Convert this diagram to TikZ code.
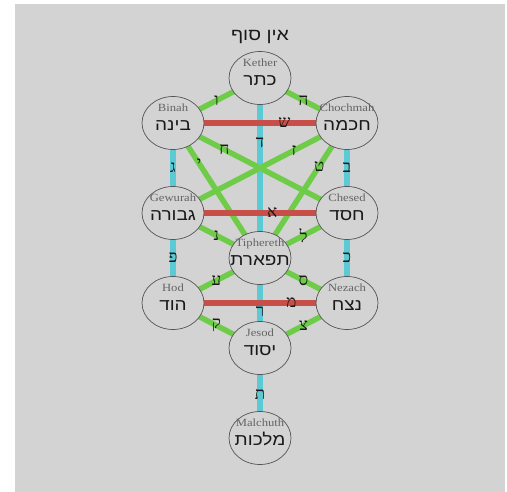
\documentclass[tikz,border=0pt]{standalone}
\usepackage{fontspec}
\setmainfont{Liberation Serif}
\newfontfamily\hebfont[Script=Hebrew]{Liberation Sans}
\usetikzlibrary{shapes.geometric,backgrounds}
\TeXXeTstate=1
\definecolor{bggray}{RGB}{211,211,211}
\definecolor{rimgray}{RGB}{85,85,85}
\definecolor{namegray}{RGB}{100,100,100}
\definecolor{hebgray}{RGB}{25,25,25}
\definecolor{pathgreen}{RGB}{110,204,72}
\definecolor{pathcyan}{RGB}{92,202,212}
\definecolor{pathred}{RGB}{200,78,74}
\newcommand{\HB}[1]{\scalebox{1.15}[1]{\hebfont\beginR #1\endR}}
\newcommand{\sefname}[2]{%
  \makebox[0pt]{\raisebox{11pt}[0pt][0pt]{\scalebox{1.15}[1]{\fontsize{11}{11}\selectfont\color{namegray}#1}}}%
  \makebox[0pt]{\raisebox{-8pt}[0pt][0pt]{\fontsize{16.5}{16.5}\selectfont\color{hebgray}\HB{#2}}}}

\begin{document}
\begin{tikzpicture}[x=1pt,y=-1pt]
  \tikzstyle{every node}=[inner sep=0pt]
  \tikzstyle{sefira}=[ellipse,draw=rimgray,line width=0.7pt,fill=bggray,
                      minimum width=62pt,minimum height=53pt]
  \tikzstyle{pathletter}=[font=\fontsize{17}{17}\selectfont,text=hebgray]
  \tikzstyle{pillar}=[draw=pathcyan,line width=5.5pt]
  \tikzstyle{diagonal}=[draw=pathgreen,line width=5.5pt]
  \tikzstyle{crossbar}=[draw=pathred,line width=5.5pt]
  \useasboundingbox (0,0) rectangle (507,492);

  \node (ainsoph) at (260,37) {\fontsize{17}{17}\selectfont\color{hebgray}\HB{אין סוף}};
  \node[sefira] (kether)    at (260,78)  {\sefname{Kether}{כתר}};
  \node[sefira] (binah)     at (173,123) {\sefname{Binah}{בינה}};
  \node[sefira] (chochmah)  at (347,123) {\sefname{Chochmah}{חכמה}};
  \node[sefira] (gewurah)   at (173,213) {\sefname{Gewurah}{גבורה}};
  \node[sefira] (chesed)    at (347,213) {\sefname{Chesed}{חסד}};
  \node[sefira] (tiphereth) at (260,258) {\sefname{Tiphereth}{תפארת}};
  \node[sefira] (hod)       at (173,303) {\sefname{Hod}{הוד}};
  \node[sefira] (nezach)    at (347,303) {\sefname{Nezach}{נצח}};
  \node[sefira] (jesod)     at (260,348) {\sefname{Jesod}{יסוד}};
  \node[sefira] (malchuth)  at (260,438) {\sefname{Malchuth}{מלכות}};

  \begin{pgfonlayer}{background}
    \fill[white] (0,0) rectangle (507,492);
    \fill[bggray] (15,4) rectangle (505,492);
    % pillars
    \draw[pillar] (kether.center) -- node[pathletter,pos=0.36] {ד} (tiphereth.center);
    \draw[pillar] (tiphereth.center) -- node[pathletter,pos=0.6] {ר} (jesod.center);
    \draw[pillar] (jesod.center) -- node[pathletter,pos=0.52] {ת} (malchuth.center);
    \draw[pillar] (binah.center) -- node[pathletter,pos=0.5] {ג} (gewurah.center);
    \draw[pillar] (chochmah.center) -- node[pathletter,pos=0.5] {ב} (chesed.center);
    \draw[pillar] (gewurah.center) -- node[pathletter,pos=0.5] {פ} (hod.center);
    \draw[pillar] (chesed.center) -- node[pathletter,pos=0.5] {כ} (nezach.center);
    % diagonals
    \draw[diagonal] (kether.center) -- node[pathletter,pos=0.5] {ו} (binah.center);
    \draw[diagonal] (kether.center) -- node[pathletter,pos=0.5] {ה} (chochmah.center);
    \draw[diagonal] (binah.center) -- node[pathletter,pos=0.295] {ח} (chesed.center);
    \draw[diagonal] (chochmah.center) -- node[pathletter,pos=0.305] {ז} (gewurah.center);
    \draw[diagonal] (binah.center) -- node[pathletter,pos=0.3] {י} (tiphereth.center);
    \draw[diagonal] (chochmah.center) -- node[pathletter,pos=0.32] {ט} (tiphereth.center);
    \draw[diagonal] (gewurah.center) -- node[pathletter,pos=0.5] {נ} (tiphereth.center);
    \draw[diagonal] (chesed.center) -- node[pathletter,pos=0.5] {ל} (tiphereth.center);
    \draw[diagonal] (tiphereth.center) -- node[pathletter,pos=0.5] {ע} (hod.center);
    \draw[diagonal] (tiphereth.center) -- node[pathletter,pos=0.5] {ס} (nezach.center);
    \draw[diagonal] (hod.center) -- node[pathletter,pos=0.5] {ק} (jesod.center);
    \draw[diagonal] (nezach.center) -- node[pathletter,pos=0.5] {צ} (jesod.center);
    % crossbars
    \draw[crossbar] (binah.center) -- node[pathletter,pos=0.64] {ש} (chochmah.center);
    \draw[crossbar] (gewurah.center) -- node[pathletter,pos=0.57] {א} (chesed.center);
    \draw[crossbar] (hod.center) -- node[pathletter,pos=0.68] {מ} (nezach.center);
  \end{pgfonlayer}
\end{tikzpicture}
\end{document}
